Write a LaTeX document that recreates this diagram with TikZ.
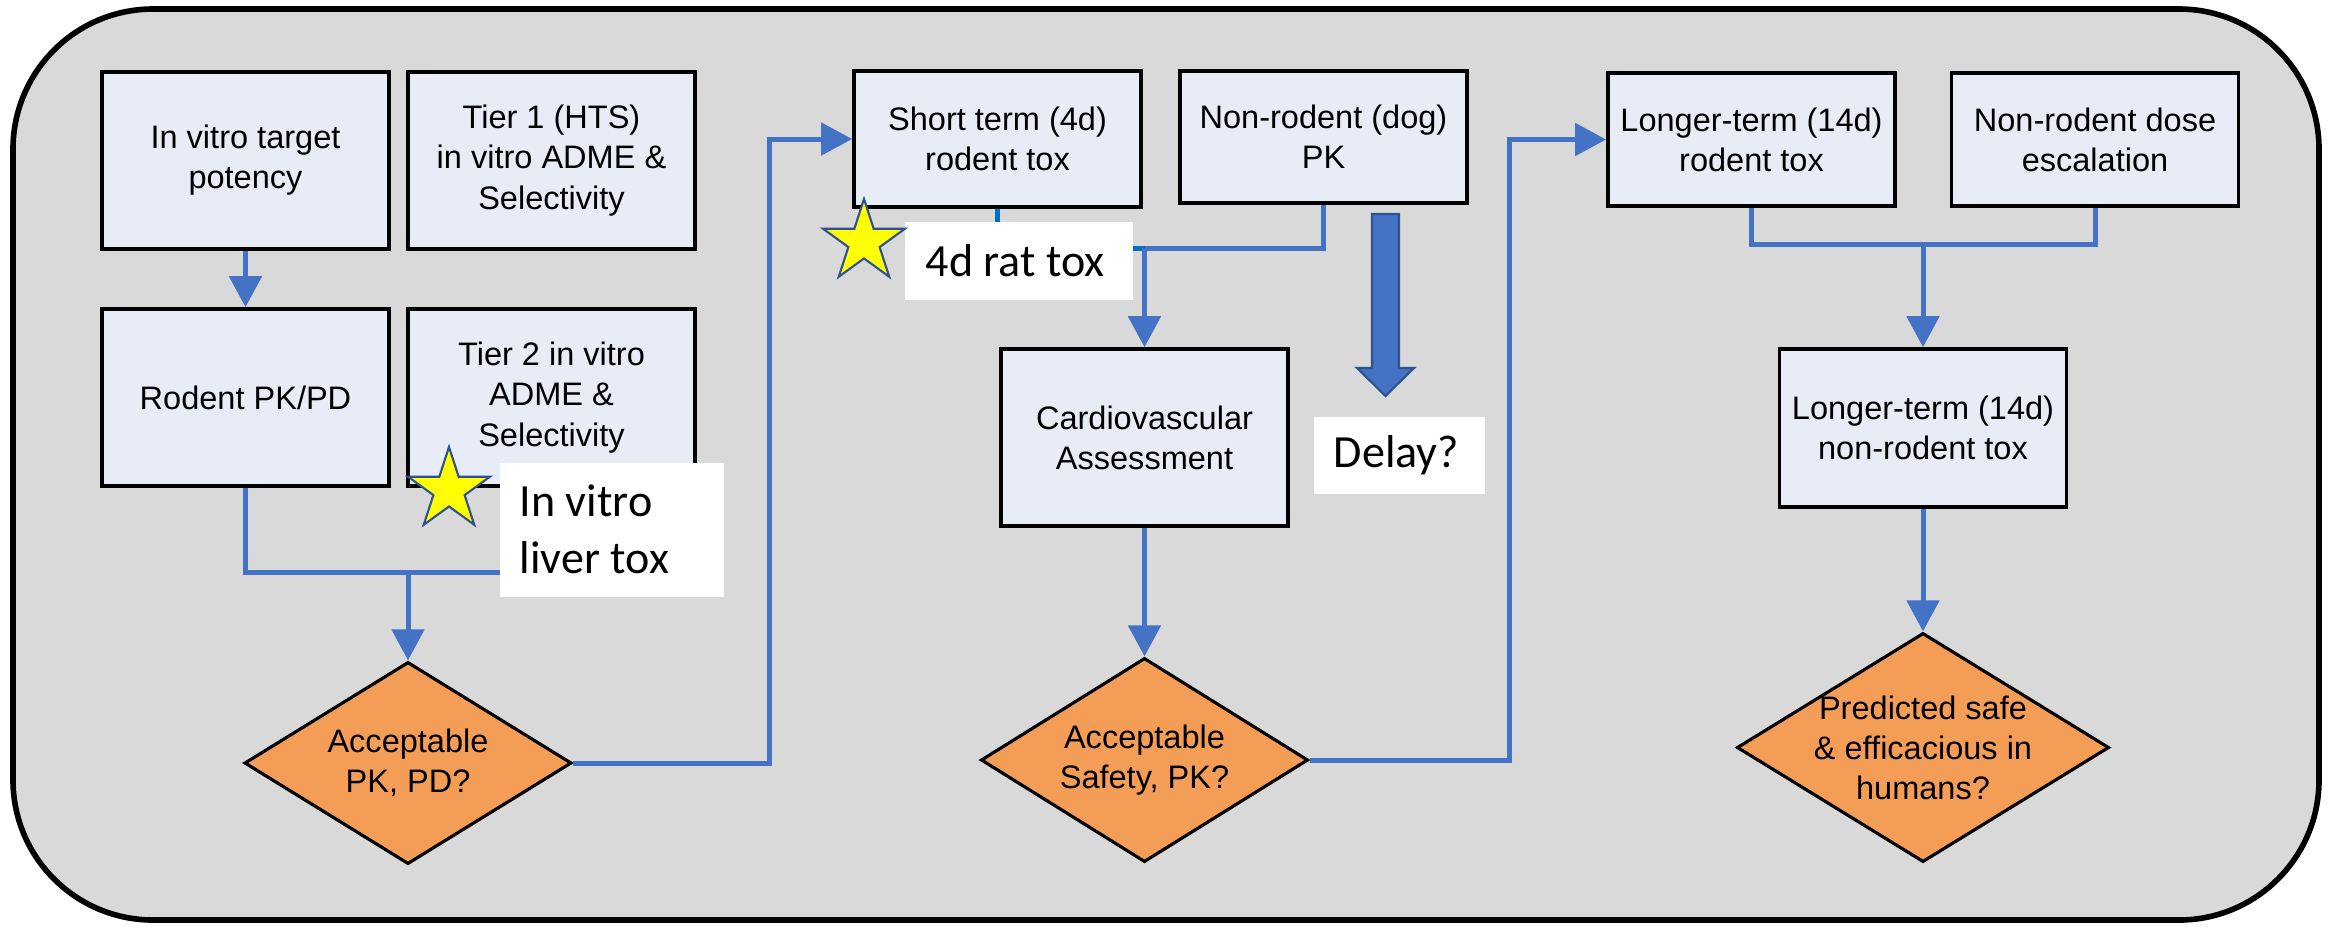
\documentclass[tikz,border=0pt]{standalone}
\usepackage{fontspec}
\setmainfont{Liberation Sans}
\newfontfamily\calloutfont{Carlito}
\usetikzlibrary{arrows.meta,shapes.geometric}

\definecolor{panelgray}{HTML}{D9D9D9}
\definecolor{boxfill}{HTML}{E7ECF6}
\definecolor{lineblue}{HTML}{4472C4}
\definecolor{deepblue}{HTML}{0070C0}
\definecolor{edgeblue}{HTML}{2F528F}
\definecolor{decorange}{HTML}{F49D57}
\definecolor{staryellow}{HTML}{FFFF00}

\begin{document}
\begin{tikzpicture}[x=0.01cm,y=-0.01cm,
  stagebox/.style={draw=black, line width=1pt, fill=boxfill, inner sep=0pt,
    align=center, minimum width=28.7mm,
    font=\fontsize{9.25}{11.4}\selectfont},
  decision/.style={diamond, draw=black, line width=0.9pt, fill=decorange,
    inner sep=0pt},
  dectext/.style={align=center, inner sep=0pt,
    font=\fontsize{9.25}{11.4}\selectfont},
  calloutbox/.style={fill=white, inner sep=0pt, anchor=north west},
  callouttext/.style={inner sep=0pt, anchor=west, align=left,
    font=\calloutfont\fontsize{13.1}{16.2}\selectfont},
  conn/.style={draw=lineblue, line width=0.5mm},
  flow/.style={conn, -{Triangle[width=3.2mm,length=3.1mm]}},
  marker/.style={star, star points=5, star point ratio=2.618,
    minimum size=8.6mm, inner sep=0pt, fill=staryellow, draw=edgeblue,
    line width=0.6pt}
]
\useasboundingbox (0,0) rectangle (2333,926);

% outer panel
\draw[fill=panelgray, draw=black, line width=1.6pt, rounded corners=14mm]
  (13,9) rectangle (2319,920);

% ---- first column group
\node[stagebox, minimum height=17.7mm] (A) at (245.5,160.5) {In vitro target\\potency};
\node[stagebox, minimum height=17.7mm] (B) at (551.5,160.5) {Tier 1 (HTS)\\in vitro ADME \&\\Selectivity};
\node[stagebox, minimum height=17.7mm] (C) at (245.5,397.5) {Rodent PK/PD};
\node[stagebox, minimum height=17.7mm] (D) at (551.5,397.5) {Tier 2 in vitro\\ADME \&\\Selectivity};
\node[decision, minimum width=32.7mm, minimum height=20.2mm] (D1) at (408,763) {};
\node[dectext] at (D1.center) {Acceptable\\PK, PD?};

% ---- second column group
\node[stagebox, minimum height=13.6mm] (E) at (997.5,139) {Short term (4d)\\rodent tox};
\node[stagebox, minimum height=13.2mm] (F) at (1323.5,137) {Non-rodent (dog)\\PK};
\node[stagebox, minimum height=17.7mm] (G) at (1144.5,437.5) {Cardiovascular\\Assessment};
\node[decision, minimum width=32.7mm, minimum height=20.4mm] (D2) at (1144.5,760) {};
\node[dectext] at (D2.center) {Acceptable\\Safety, PK?};

% ---- third column group
\node[stagebox, minimum height=13.3mm] (H) at (1751.5,139.5) {Longer-term (14d)\\rodent tox};
\node[stagebox, minimum height=13.3mm] (I) at (2095,139.5) {Non-rodent dose\\escalation};
\node[stagebox, minimum height=15.8mm] (J) at (1923,428) {Longer-term (14d)\\non-rodent tox};
\node[decision, minimum width=37.2mm, minimum height=22.9mm] (D3) at (1923,747.5) {};
\node[dectext] at (D3.center) {Predicted safe\\\& efficacious in\\humans?};

% junctions and turning points
\coordinate (j1) at (408,572);
\coordinate (j2) at (1144.5,248);
\coordinate (j3) at (1923,244);
\coordinate (r1) at (769,0);
\coordinate (r2) at (1509,0);

% connectors
\draw[flow] (A.south) -- (C.north);
\draw[conn] (C.south) |- (j1);
\draw[conn] (D.south) |- (j1);
\draw[flow] (j1) -- (D1.north);
\draw[flow] (D1.east) -| (r1 |- E.west) -- (E.west);

\draw[conn, draw=deepblue] (E.south) |- (j2);
\draw[conn] (F.south) |- (j2);
\draw[flow] (j2) -- (G.north);
\draw[flow] (G.south) -- (D2.north);
\draw[flow] (D2.east) -| (r2 |- H.west) -- (H.west);

\draw[conn] (H.south) |- (j3);
\draw[conn] (I.south) |- (j3);
\draw[flow] (j3) -- (J.north);
\draw[flow] (J.south) -- (D3.north);

% wide block arrow under the dog PK box
\draw[fill=lineblue, draw=edgeblue, line width=0.6pt]
  (1372,214) -- (1399,214) -- (1399,368) -- (1414,368) -- (1385.5,396)
  -- (1357,368) -- (1372,368) -- cycle;

% callouts
\node[calloutbox, minimum width=22.4mm, minimum height=13.4mm] (liver) at (499,462) {};
\node[callouttext] at ([xshift=2mm]liver.west) {In vitro\\liver tox};
\node[calloutbox, minimum width=22.8mm, minimum height=7.8mm] (rat) at (904,221) {};
\node[callouttext] at ([xshift=2.1mm]rat.west) {4d rat tox};
\node[calloutbox, minimum width=17.1mm, minimum height=7.7mm] (delay) at (1313,416) {};
\node[callouttext] at ([xshift=2mm]delay.west) {Delay?};

% stars
\node[marker] (s1) at (449,490) {};
\node[marker] (s2) at (864,242) {};
\end{tikzpicture}
\end{document}
